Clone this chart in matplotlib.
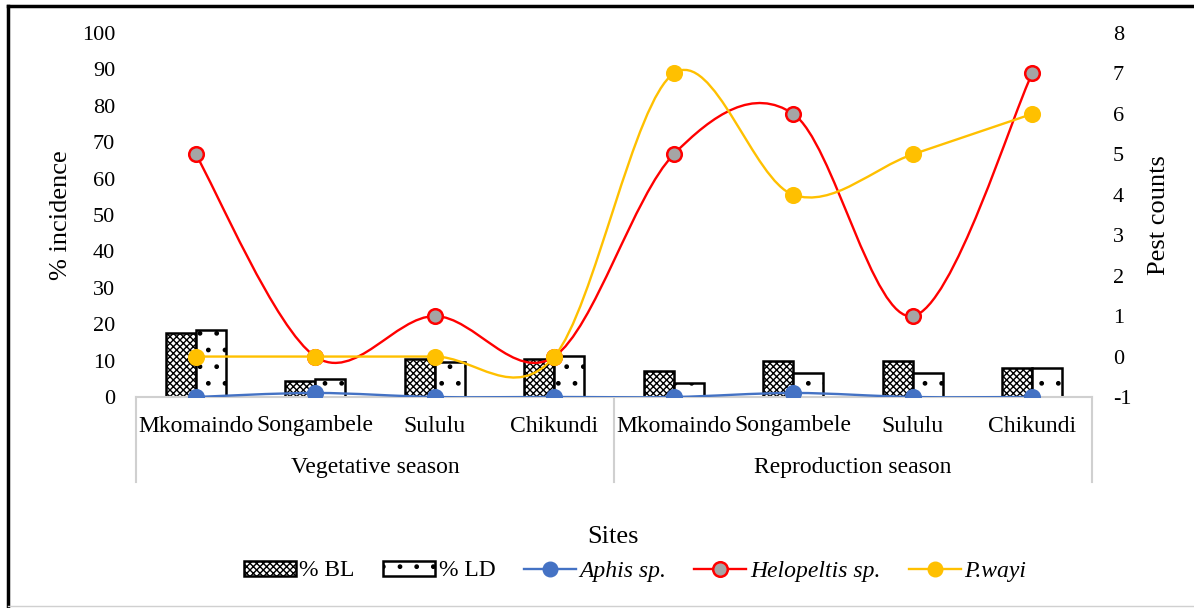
import numpy as np
import matplotlib
matplotlib.use("Agg")
import matplotlib.pyplot as plt
from matplotlib.path import Path
from matplotlib.patches import PathPatch, Patch
from matplotlib.lines import Line2D
import matplotlib.transforms as mtrans

plt.rcParams['font.family'] = ['Liberation Serif', 'DejaVu Serif']
plt.rcParams['hatch.linewidth'] = 1.0
plt.rcParams['axes.unicode_minus'] = False

sites = ["Mkomaindo", "Songambele", "Sululu", "Chikundi",
         "Mkomaindo", "Songambele", "Sululu", "Chikundi"]
seasons = ["Vegetative season", "Reproduction season"]
bl = [17.6, 4.4, 10.4, 10.4, 7.1, 9.9, 9.9, 8.1]
ld = [18.4, 5.0, 9.7, 11.3, 3.8, 6.5, 6.5, 8.1]
aphis = [-1, -0.9, -1, -1, -1, -0.9, -1, -1]
helopeltis = [5, 0, 1, 0, 5, 6, 1, 7]
pwayi = [0, 0, 0, 0, 7, 4, 5, 6]

W, H = 1194, 608
FS = 17
fig = plt.figure(figsize=(W / 100, H / 100), dpi=100)
ax = fig.add_axes([136 / W, 1 - 397 / H, (1092 - 136) / W, (397 - 33) / H])
ax2 = ax.twinx()

x = np.arange(len(sites))
bw = 0.25
ax.bar(x - bw / 2, bl, bw, facecolor='white', edgecolor='black', hatch='xxxxx', linewidth=1.8, zorder=2)
ax.bar(x + bw / 2, ld, bw, facecolor='white', edgecolor='black', hatch='.', linewidth=1.8, zorder=2)
ax.set_xlim(-0.5, len(sites) - 0.5)
ax.set_ylim(0, 100)
ax.set_yticks(np.arange(0, 101, 10))
ax2.set_ylim(-1, 8)
ax2.set_yticks(np.arange(-1, 9, 1))
ax.set_xticks([])

for a in (ax, ax2):
    for s in a.spines.values():
        s.set_visible(False)
    a.tick_params(axis='y', length=0, labelsize=16, pad=15)
ax.spines['bottom'].set_visible(True)
ax.spines['bottom'].set_color('#d0d0d0')
ax.spines['bottom'].set_linewidth(1.5)


def smooth(xs, ys):
    xs = np.asarray(xs, float)
    ys = np.asarray(ys, float)
    pts = np.column_stack([xs, ys])
    n = len(pts)
    verts = [pts[0]]
    codes = [Path.MOVETO]
    for i in range(n - 1):
        p0 = pts[i - 1] if i > 0 else pts[i]
        p1 = pts[i]
        p2 = pts[i + 1]
        p3 = pts[i + 2] if i + 2 < n else pts[i + 1]
        c1 = p1 + (p2 - p0) / 6
        c2 = p2 - (p3 - p1) / 6
        verts += [c1, c2, p2]
        codes += [Path.CURVE4] * 3
    return Path(verts, codes)


MS = 10.5
series = [
    (aphis, '#4472C4', '#4472C4', '#4472C4'),
    (helopeltis, '#FF0000', '#A5A5A5', '#FF0000'),
    (pwayi, '#FFC000', '#FFC000', '#FFC000'),
]
for z, (vals, lc, fc, ec) in enumerate(series):
    zo = 3 + z
    ax2.add_patch(PathPatch(smooth(x, vals), facecolor='none', edgecolor=lc, linewidth=1.7, zorder=zo))
    ax2.plot(x, vals, linestyle='none', marker='o', markersize=MS,
             markerfacecolor=fc, markeredgecolor=ec, markeredgewidth=1.8, zorder=zo + 0.5)
ax2.set_zorder(ax.get_zorder() + 1)
ax.patch.set_visible(False)

ax.set_ylabel('% incidence', fontsize=19)
ax2.set_ylabel('Pest counts', fontsize=19)
ax.yaxis.set_label_coords(-64 / (1092 - 136), 0.5)
ax2.yaxis.set_label_coords(1 + (1148 - 1092) / (1092 - 136), 0.5)

trans = mtrans.blended_transform_factory(ax.transData, fig.transFigure)
for i, s in enumerate(sites):
    ax.text(i, 1 - 426 / H, s, transform=trans, ha='center', va='center', fontsize=FS, clip_on=False)
for j, s in enumerate(seasons):
    ax.text(j * 4 + 1.5, 1 - 468 / H, s, transform=trans, ha='center', va='center', fontsize=FS, clip_on=False)
for xv in (-0.5, 3.5, 7.5):
    ax.add_line(Line2D([xv, xv], [1 - 397 / H, 1 - 482 / H], transform=trans, color='#d0d0d0',
                       linewidth=1.5, clip_on=False))
fig.text(613 / W, 1 - 537 / H, 'Sites', ha='center', va='center', fontsize=19)

handles = [
    Patch(facecolor='white', edgecolor='black', hatch='xxxxx', linewidth=1.8),
    Patch(facecolor='white', edgecolor='black', hatch='.', linewidth=1.8),
    Line2D([], [], color='#4472C4', marker='o', markersize=MS, linewidth=1.7),
    Line2D([], [], color='#FF0000', marker='o', markersize=MS, markerfacecolor='#A5A5A5',
           markeredgecolor='#FF0000', markeredgewidth=1.8, linewidth=1.7),
    Line2D([], [], color='#FFC000', marker='o', markersize=MS, linewidth=1.7),
]
labels = ['% BL', '% LD', 'Aphis sp.', 'Helopeltis sp.', 'P.wayi']
leg = fig.legend(handles, labels, loc='center', bbox_to_anchor=(635 / W, 1 - 571 / H), ncol=5,
                 frameon=False, fontsize=FS, handlelength=2.2, handletextpad=0.15, columnspacing=1.2,
                 handleheight=0.6)
for t in leg.get_texts()[2:]:
    t.set_style('italic')

fig.add_artist(Line2D([8 / W, 8 / W], [0, 1 - 6 / H], transform=fig.transFigure, color='black', linewidth=2.5))
fig.add_artist(Line2D([8 / W, 1], [1 - 6 / H, 1 - 6 / H], transform=fig.transFigure, color='black', linewidth=2.5))
fig.add_artist(Line2D([8 / W, 1], [1 - 606 / H, 1 - 606 / H], transform=fig.transFigure, color='#d0d0d0', linewidth=1))

fig.savefig('out.png', dpi=100)
